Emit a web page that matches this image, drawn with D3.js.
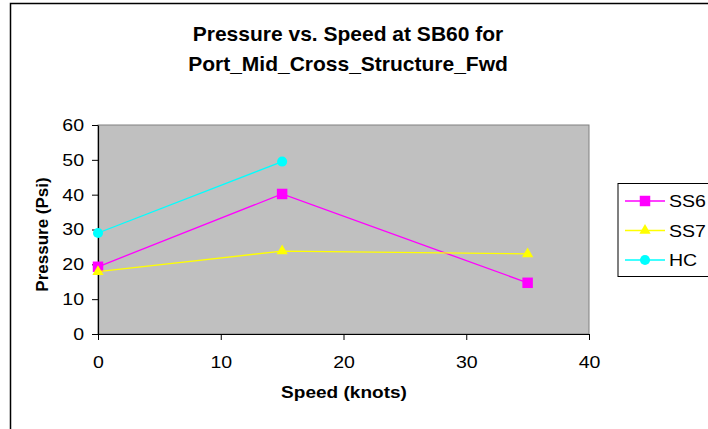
<!DOCTYPE html>
<html>
<head>
<meta charset="utf-8">
<script src="https://cdn.jsdelivr.net/npm/d3@7"></script>
<style>
  html, body { margin: 0; padding: 0; background: #fff; }
  svg { display: block; font-family: Arial, "Liberation Sans", sans-serif; }
</style>
</head>
<body>
<svg id="chart" width="708" height="429"></svg>
<script>
// Pressure readings (psi) at each test speed (knots)
const speeds = [0, 15, 35];
const ss6 = [19.3, 40.2, 14.7];
const ss7 = [17.9, 23.8, 23.0];
const hc = [29.0, 49.5];

const seriesNames = ["SS6", "SS7", "HC"];
const seriesColors = ["#FF00FF", "#FFFF00", "#00FFFF"];
const seriesValues = [ss6, ss7, hc];
const seriesShapes = [d3.symbolSquare, d3.symbolTriangle, d3.symbolCircle];
const symbolSizes = [110, 55, 80];

const xTicks = [0, 10, 20, 30, 40];
const yTicks = [0, 10, 20, 30, 40, 50, 60];

const titleLines = ["Pressure vs. Speed at SB60 for", "Port_Mid_Cross_Structure_Fwd"];
const xTitle = "Speed (knots)";
const yTitle = "Pressure (Psi)";

// small labels are drawn slightly wide
const wide = 1.15;

const svg = d3.select("#chart");

// chart frame
svg.append("path")
  .attr("d", "M10.5,429 V3.5 H708")
  .attr("fill", "none").attr("stroke", "#000").attr("stroke-width", 1.5);

const plot = { left: 98, right: 589, top: 125, bottom: 334 };

const x = d3.scaleLinear().domain([0, 40]).range([plot.left, plot.right]);
const y = d3.scaleLinear().domain([0, 60]).range([plot.bottom, plot.top]);

// plot background
svg.append("rect")
  .attr("x", plot.left).attr("y", plot.top)
  .attr("width", plot.right - plot.left).attr("height", plot.bottom - plot.top)
  .attr("fill", "#C0C0C0").attr("stroke", "#808080").attr("stroke-width", 1);

// axes
const xAxis = svg.append("g")
  .attr("transform", `translate(0,${plot.bottom})`)
  .call(d3.axisBottom(x).tickValues(xTicks).tickSize(6).tickSizeOuter(0).tickPadding(16));
const yAxis = svg.append("g")
  .attr("transform", `translate(${plot.left},0)`)
  .call(d3.axisLeft(y).tickValues(yTicks).tickSize(6).tickSizeOuter(0).tickPadding(8));

[xAxis, yAxis].forEach(g => {
  g.attr("font-size", null).attr("font-family", null);
  g.select(".domain").attr("stroke", "#000").attr("stroke-width", 1.2);
  g.selectAll(".tick line").attr("stroke", "#000");
  g.selectAll(".tick text")
    .style("font-size", "17px").attr("fill", "#000");
});
xAxis.selectAll(".tick text").attr("transform", `scale(${wide},1)`);
yAxis.selectAll(".tick text")
  .attr("x", 0)
  .attr("transform", `translate(-14,0) scale(${wide},1)`);

// series lines and markers
const line = d3.line().x((d, i) => x(speeds[i])).y(d => y(d));

seriesValues.forEach((vals, s) => {
  svg.append("path")
    .datum(vals)
    .attr("d", line)
    .attr("fill", "none")
    .attr("stroke", seriesColors[s])
    .attr("stroke-width", 1.3);
  svg.selectAll(null)
    .data(vals)
    .join("path")
    .attr("transform", (d, i) => `translate(${x(speeds[i])},${y(d)})`)
    .attr("d", d3.symbol().type(seriesShapes[s]).size(symbolSizes[s]))
    .attr("fill", seriesColors[s]);
});

// title
svg.append("g").selectAll("text")
  .data(titleLines)
  .join("text")
  .attr("x", 348)
  .attr("y", (d, i) => 41 + i * 29.5)
  .attr("text-anchor", "middle")
  .style("font-size", "21px")
  .attr("font-weight", "bold")
  .text(d => d);

// axis titles
svg.append("text")
  .attr("transform", `translate(344,398) scale(1.12,1)`)
  .attr("text-anchor", "middle")
  .style("font-size", "17px").attr("font-weight", "bold")
  .text(xTitle);

svg.append("text")
  .attr("transform", `translate(48,${(plot.top + plot.bottom) / 2 + 5}) rotate(-90)`)
  .attr("text-anchor", "middle")
  .style("font-size", "17px").attr("font-weight", "bold")
  .text(yTitle);

// legend
const legend = svg.append("g");
legend.append("rect")
  .attr("x", 618).attr("y", 183.5)
  .attr("width", 100).attr("height", 93)
  .attr("fill", "#fff").attr("stroke", "#000").attr("stroke-width", 1);

seriesNames.forEach((name, s) => {
  const cy = 201 + s * 29.5;
  legend.append("line")
    .attr("x1", 625).attr("x2", 665).attr("y1", cy).attr("y2", cy)
    .attr("stroke", seriesColors[s]).attr("stroke-width", 1.3);
  legend.append("path")
    .attr("transform", `translate(645,${cy})`)
    .attr("d", d3.symbol().type(seriesShapes[s]).size(symbolSizes[s]))
    .attr("fill", seriesColors[s]);
  legend.append("text")
    .attr("transform", `translate(669,${cy + 6}) scale(${wide},1)`)
    .style("font-size", "17px")
    .text(name);
});
</script>
</body>
</html>
